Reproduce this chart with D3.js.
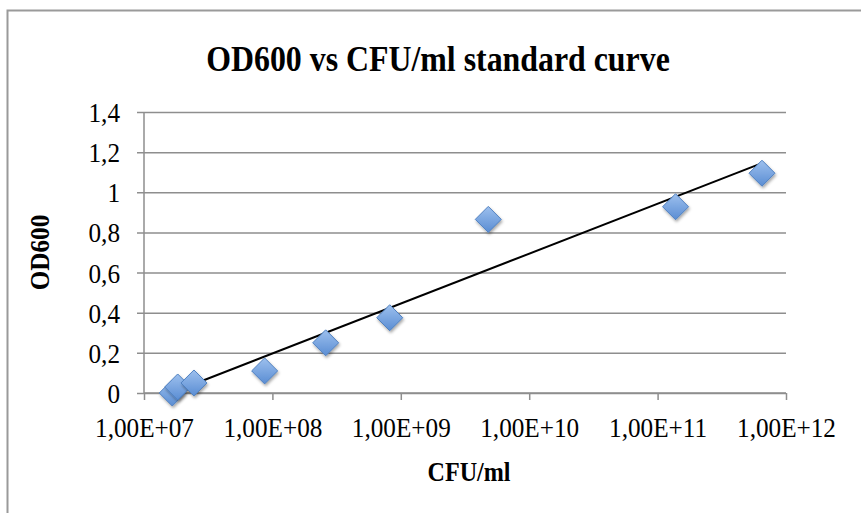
<!DOCTYPE html>
<html>
<head>
<meta charset="utf-8">
<script src="https://cdn.jsdelivr.net/npm/d3@7"></script>
<style>
  html, body { margin: 0; padding: 0; background: #fff; }
  svg { display: block; font-family: "Liberation Serif", "Times New Roman", serif; }
</style>
</head>
<body>
<div id="chart"></div>
<script>
// dati
const cfu = [1.66e7, 1.83e7, 2.45e7, 8.7e7, 2.6e8, 8.2e8, 4.8e9, 1.38e11, 6.5e11];
const od600 = [0, 0.03, 0.05, 0.11, 0.25, 0.375, 0.865, 0.928, 1.095];

const xTicks = [1e7, 1e8, 1e9, 1e10, 1e11, 1e12];
const xTickLabels = ["1,00E+07", "1,00E+08", "1,00E+09", "1,00E+10", "1,00E+11", "1,00E+12"];
const yTicks = [0, 0.2, 0.4, 0.6, 0.8, 1, 1.2, 1.4];
const yTickLabels = ["0", "0,2", "0,4", "0,6", "0,8", "1", "1,2", "1,4"];

const width = 861, height = 513;
const plot = { left: 144, right: 786, top: 112, bottom: 393 };
const gridColor = "#8e8e8e";
const serif = '"Liberation Serif", "Times New Roman", serif';

// il testo dell'originale è un po' stretto in orizzontale
function condense(sel, k) {
    sel.each(function() {
        const w = this.getComputedTextLength();
        d3.select(this).attr("textLength", w * k).attr("lengthAdjust", "spacingAndGlyphs");
    });
}

const svg = d3.select("#chart").append("svg")
    .attr("width", width)
    .attr("height", height);

// ombra e gradiente dei marker
const defs = svg.append("defs");
const grad = defs.append("linearGradient")
    .attr("id", "mk").attr("x1", 0).attr("y1", 0).attr("x2", 0).attr("y2", 1);
grad.append("stop").attr("offset", "0%").attr("stop-color", "#9dc0ee");
grad.append("stop").attr("offset", "100%").attr("stop-color", "#5a8dd3");
const shadow = defs.append("filter").attr("id", "sh")
    .attr("x", "-50%").attr("y", "-50%").attr("width", "200%").attr("height", "200%");
shadow.append("feDropShadow")
    .attr("dx", 1).attr("dy", 2).attr("stdDeviation", 1.5)
    .attr("flood-color", "#000").attr("flood-opacity", 0.35);

// cornice del grafico
svg.append("rect")
    .attr("x", 7.5).attr("y", 10.5)
    .attr("width", width + 20).attr("height", height + 20)
    .attr("fill", "#fff")
    .attr("stroke", "#9a9a9a")
    .attr("stroke-width", 2);

const x = d3.scaleLog().domain([1e7, 1e12]).range([plot.left, plot.right]);
const y = d3.scaleLinear().domain([0, 1.4]).range([plot.bottom, plot.top]);

// griglia orizzontale + asse y
const yAxis = d3.axisLeft(y)
    .tickValues(yTicks)
    .tickSize(plot.right - plot.left + 7)
    .tickFormat((d, i) => yTickLabels[i]);
const gy = svg.append("g")
    .attr("transform", `translate(${plot.right},0)`)
    .call(yAxis)
    .attr("font-family", serif)
    .attr("font-size", 28);
gy.select(".domain").remove();
gy.selectAll(".tick line").attr("stroke", gridColor).attr("stroke-width", 1.5);
gy.selectAll(".tick text")
    .attr("x", -(plot.right - plot.left) - 24)
    .attr("dy", "0.34em")
    .attr("fill", "#000")
    .call(condense, 0.9);

svg.append("line")
    .attr("x1", plot.left).attr("x2", plot.left)
    .attr("y1", plot.top).attr("y2", plot.bottom)
    .attr("stroke", gridColor).attr("stroke-width", 1.5);

// asse x
const xAxis = d3.axisBottom(x)
    .tickValues(xTicks)
    .tickSize(7)
    .tickFormat((d, i) => xTickLabels[i]);
const gx = svg.append("g")
    .attr("transform", `translate(0,${plot.bottom})`)
    .call(xAxis)
    .attr("font-family", serif)
    .attr("font-size", 28);
gx.select(".domain").attr("stroke", gridColor).attr("stroke-width", 1.5)
    .attr("d", `M${plot.left},0H${plot.right}`);
gx.selectAll(".tick line").attr("stroke", gridColor).attr("stroke-width", 1.5);
gx.selectAll(".tick text")
    .attr("y", 24)
    .attr("dy", "0.71em")
    .attr("fill", "#000")
    .call(condense, 0.9);

// linea di tendenza (minimi quadrati su log10)
const lx = cfu.map(v => Math.log10(v));
const mx = d3.mean(lx), my = d3.mean(od600);
const slope = d3.sum(lx, (v, i) => (v - mx) * (od600[i] - my)) / d3.sum(lx, v => (v - mx) * (v - mx));
const icpt = my - slope * mx;
const xMin = d3.min(cfu), xMax = d3.max(cfu);
svg.append("line")
    .attr("x1", x(xMin)).attr("y1", y(icpt + slope * Math.log10(xMin)))
    .attr("x2", x(xMax)).attr("y2", y(icpt + slope * Math.log10(xMax)))
    .attr("stroke", "#000").attr("stroke-width", 2);

// marker a rombo
const r = 13;
svg.append("g").selectAll("path")
    .data(cfu)
    .join("path")
    .attr("transform", (d, i) => `translate(${x(d)},${y(od600[i])})`)
    .attr("d", `M0,${-r}L${r},0L0,${r}L${-r},0Z`)
    .attr("fill", "url(#mk)")
    .attr("stroke", "#4f80c0")
    .attr("stroke-width", 1)
    .attr("filter", "url(#sh)");

// titoli
svg.append("text")
    .attr("x", 438).attr("y", 71)
    .attr("text-anchor", "middle")
    .attr("font-size", 35).attr("font-weight", "bold")
    .text("OD600 vs CFU/ml standard curve")
    .call(condense, 0.91);

svg.append("text")
    .attr("x", (plot.left + plot.right) / 2 + 4).attr("y", 481)
    .attr("text-anchor", "middle")
    .attr("font-size", 28).attr("font-weight", "bold")
    .text("CFU/ml")
    .call(condense, 0.86);

svg.append("text")
    .attr("transform", `translate(49,${(plot.top + plot.bottom) / 2}) rotate(-90)`)
    .attr("text-anchor", "middle")
    .attr("font-size", 28).attr("font-weight", "bold")
    .text("OD600")
    .call(condense, 0.9);
</script>
</body>
</html>
